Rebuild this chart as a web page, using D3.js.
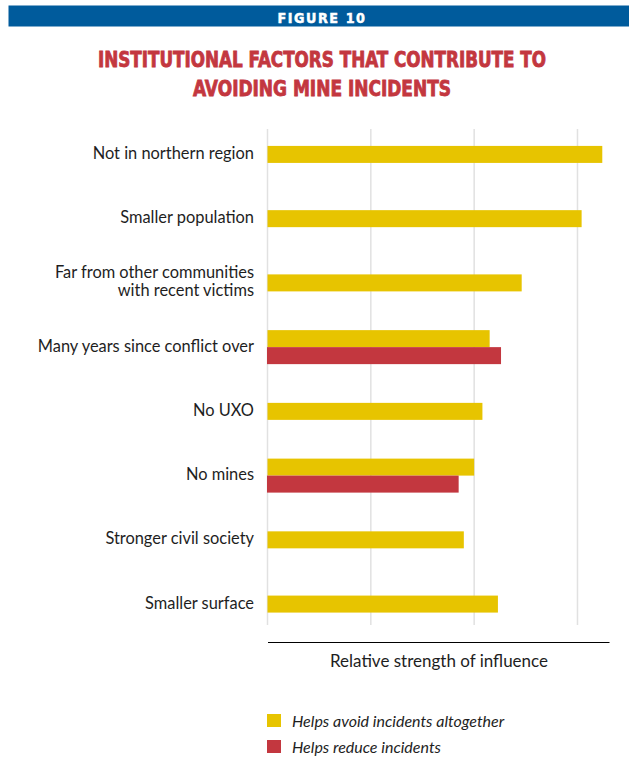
<!DOCTYPE html>
<html lang="en">
<head>
    <meta charset="UTF-8">
    <title>Figure 10</title>
    <script src="https://d3js.org/d3.v7.min.js"></script>
    <style>
        body {
            margin: 0;
            background: #ffffff;
        }
        svg {
            display: block;
            background: #ffffff;
        }
        .cond {
            font-family: "Liberation Sans Narrow", "DejaVu Sans Condensed", Roboto, sans-serif;
            font-stretch: condensed;
            font-weight: bold;
        }
        .lbl {
            font-family: Lato, "Noto Sans", sans-serif;
            fill: #1e1e1e;
        }
    </style>
</head>
<body>
    <div id="chart"></div>
    <script>
        // data (relative strength, one grid step = 1)
        const categories = [
            "Not in northern region",
            "Smaller population",
            "Far from other communities\nwith recent victims",
            "Many years since conflict over",
            "No UXO",
            "No mines",
            "Stronger civil society",
            "Smaller surface"
        ];
        const avoidValues = [3.24, 3.04, 2.46, 2.15, 2.08, 2.00, 1.90, 2.23];
        const reduceValues = [null, null, null, 2.26, null, 1.85, null, null];
        const gridTicks = [0, 1, 2, 3];
        const seriesNames = ["Helps avoid incidents altogether", "Helps reduce incidents"];
        const titleLines = ["INSTITUTIONAL FACTORS THAT CONTRIBUTE TO", "AVOIDING MINE INCIDENTS"];

        const colors = {avoid: "#e7c400", reduce: "#c3373f", band: "#005b9c"};
        const width = 629, height = 759;
        const barH = 17;

        const svg = d3.select("#chart").append("svg")
            .attr("width", width)
            .attr("height", height);

        // header band
        svg.append("rect")
            .attr("x", 8.5).attr("y", 5.5)
            .attr("width", width - 8.5).attr("height", 21)
            .attr("fill", colors.band);
        svg.append("text")
            .attr("class", "cond")
            .attr("x", 322).attr("y", 23.3)
            .attr("text-anchor", "middle")
            .attr("fill", "#fff")
            .attr("stroke", "#fff")
            .attr("stroke-width", 0.5)
            .attr("font-size", 14.5)
            .attr("letter-spacing", 1.6)
            .attr("textLength", 89)
            .attr("lengthAdjust", "spacingAndGlyphs")
            .text("FIGURE 10");

        // title
        const titleWidths = [448, 258];
        svg.selectAll(".title")
            .data(titleLines)
            .enter().append("text")
            .attr("class", "title cond")
            .attr("x", 322)
            .attr("y", (d, i) => 66.7 + i * 29)
            .attr("text-anchor", "middle")
            .attr("fill", colors.reduce)
            .attr("stroke", colors.reduce)
            .attr("stroke-width", 0.8)
            .attr("font-size", 21)
            .attr("textLength", (d, i) => titleWidths[i])
            .attr("lengthAdjust", "spacingAndGlyphs")
            .text(d => d);

        // scales
        const x = d3.scaleLinear()
            .domain([0, 3.305])
            .range([267.5, 609]);
        const y = d3.scaleBand()
            .domain(categories)
            .range([122.3, 636.2]);

        // gridlines
        svg.append("g")
            .selectAll("line")
            .data(gridTicks)
            .enter().append("line")
            .attr("x1", d => x(d)).attr("x2", d => x(d))
            .attr("y1", 129).attr("y2", 625)
            .attr("stroke", "#e1e1e1")
            .attr("stroke-width", 1.5);

        // bars
        const rows = categories.map((c, i) => ({cat: c, avoid: avoidValues[i], reduce: reduceValues[i]}));
        const rowCenter = d => y(d.cat) + y.bandwidth() / 2;

        svg.append("g")
            .selectAll("rect")
            .data(rows)
            .enter().append("rect")
            .attr("x", x(0))
            .attr("y", d => d.reduce == null ? rowCenter(d) - barH / 2 : rowCenter(d) - barH)
            .attr("width", d => x(d.avoid) - x(0))
            .attr("height", barH)
            .attr("fill", colors.avoid);

        svg.append("g")
            .selectAll("rect")
            .data(rows.filter(d => d.reduce != null))
            .enter().append("rect")
            .attr("x", x(0) - 0.5)
            .attr("y", d => rowCenter(d))
            .attr("width", d => x(d.reduce) - x(0) + 0.5)
            .attr("height", barH)
            .attr("fill", colors.reduce);

        // category labels
        const labels = svg.append("g")
            .selectAll("text")
            .data(rows)
            .enter().append("text")
            .attr("class", "lbl")
            .attr("text-anchor", "end")
            .attr("font-size", 16.4)
            .attr("y", d => rowCenter(d) + 4.5);
        labels.each(function(d) {
            const lines = d.cat.split("\n");
            d3.select(this).selectAll("tspan")
                .data(lines)
                .enter().append("tspan")
                .attr("x", 254)
                .attr("dy", (l, i) => i === 0 ? -(lines.length - 1) * 9 : 18)
                .text(l => l);
        });

        // x axis (no ticks, just the line)
        svg.append("g")
            .attr("transform", "translate(0, 642)")
            .call(d3.axisBottom(x).tickValues([]).tickSizeOuter(0))
            .select(".domain")
            .attr("stroke", "#000")
            .attr("stroke-width", 1.2);

        svg.append("text")
            .attr("class", "lbl")
            .attr("x", 439).attr("y", 667)
            .attr("text-anchor", "middle")
            .attr("font-size", 17)
            .text("Relative strength of influence");

        // legend
        const legend = svg.append("g")
            .selectAll("g")
            .data(seriesNames)
            .enter().append("g")
            .attr("transform", (d, i) => `translate(267, ${714 + i * 26})`);
        legend.append("rect")
            .attr("width", 14).attr("height", 13)
            .attr("fill", (d, i) => i === 0 ? colors.avoid : colors.reduce);
        legend.append("text")
            .attr("class", "lbl")
            .attr("x", 25).attr("y", 12.5)
            .attr("font-size", 16)
            .attr("font-style", "italic")
            .text(d => d);
    </script>
</body>
</html>
